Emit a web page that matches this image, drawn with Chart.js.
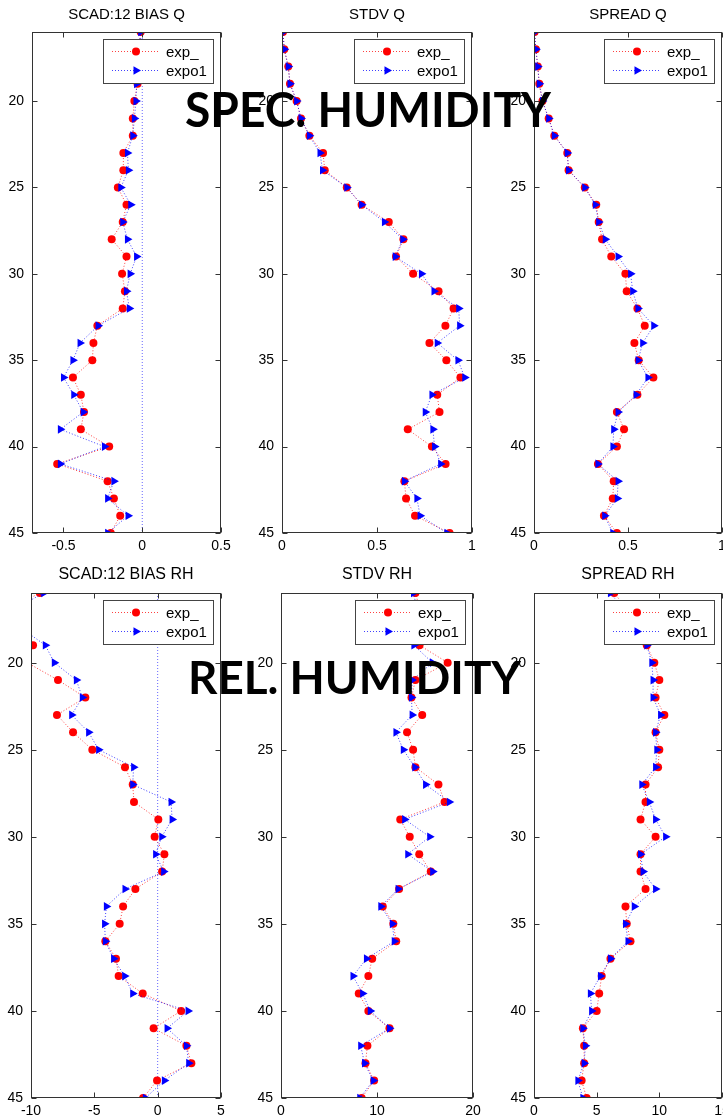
<!DOCTYPE html>
<html>
<head>
<meta charset="utf-8">
<title>Humidity verification profiles</title>
<script src="https://cdn.jsdelivr.net/npm/chart.js@4.4.0/dist/chart.umd.min.js"></script>
<style>
  html, body { margin: 0; padding: 0; background: #fff; overflow: hidden; }
  body { width: 723px; height: 1117px; position: relative; }
  canvas { position: absolute; }
  .big {
    position: absolute; z-index: 10; white-space: nowrap;
    font-family: Lato, "Open Sans", sans-serif; font-weight: 700; color: #000;
    line-height: 1; transform-origin: 0 0;
  }
</style>
</head>
<body>
<div id="wrap"></div>
<div class="big" id="lblQ" style="font-size:47px">SPEC. HUMIDITY</div>
<div class="big" id="lblRH" style="font-size:46px">REL. HUMIDITY</div>
<script>
// model levels, top (16) to bottom (45)
const levels = [16, 17, 18, 19, 20, 21, 22, 23, 24, 25, 26, 27, 28, 29, 30,
                31, 32, 33, 34, 35, 36, 37, 38, 39, 40, 41, 42, 43, 44, 45];
const levelTicks = [20, 25, 30, 35, 40, 45];

// specific humidity
const biasQExp   = [-0.01, -0.02, -0.03, -0.03, -0.05, -0.06, -0.06, -0.12, -0.12, -0.155, -0.10, -0.124, -0.194, -0.10, -0.128,
                    -0.11, -0.124, -0.285, -0.31, -0.317, -0.44, -0.39, -0.37, -0.39, -0.21, -0.54, -0.22, -0.18, -0.14, -0.20];
const biasQExpo1 = [-0.01, -0.02, -0.03, -0.036, -0.04, -0.05, -0.06, -0.094, -0.088, -0.136, -0.073, -0.124, -0.094, -0.036, -0.077,
                    -0.10, -0.082, -0.28, -0.395, -0.44, -0.50, -0.435, -0.375, -0.52, -0.24, -0.52, -0.18, -0.22, -0.09, -0.22];
const stdvQExp   = [0.005, 0.012, 0.033, 0.042, 0.077, 0.10, 0.144, 0.216, 0.225, 0.341, 0.419, 0.562, 0.639, 0.60, 0.69,
                    0.824, 0.903, 0.86, 0.776, 0.865, 0.939, 0.817, 0.829, 0.662, 0.789, 0.861, 0.644, 0.653, 0.70, 0.882];
const stdvQExpo1 = [0.005, 0.012, 0.033, 0.042, 0.077, 0.10, 0.144, 0.20, 0.213, 0.341, 0.419, 0.539, 0.636, 0.596, 0.734,
                    0.80, 0.93, 0.935, 0.817, 0.926, 0.962, 0.789, 0.754, 0.794, 0.803, 0.835, 0.644, 0.71, 0.727, 0.868];
const spreadQExp   = [0.003, 0.01, 0.02, 0.028, 0.045, 0.078, 0.108, 0.177, 0.184, 0.27, 0.331, 0.344, 0.362, 0.411, 0.486,
                      0.493, 0.55, 0.589, 0.534, 0.557, 0.635, 0.55, 0.441, 0.479, 0.441, 0.34, 0.424, 0.419, 0.372, 0.441];
const spreadQExpo1 = [0.003, 0.01, 0.02, 0.028, 0.045, 0.078, 0.108, 0.177, 0.184, 0.27, 0.326, 0.344, 0.379, 0.447, 0.514,
                      0.525, 0.553, 0.637, 0.578, 0.554, 0.606, 0.543, 0.447, 0.424, 0.42, 0.34, 0.447, 0.443, 0.376, 0.419];

// relative humidity
const biasRHExp   = [-9.3, -12, -11.5, -9.84, -10.3, -7.87, -5.71, -7.95, -6.68, -5.16, -2.58, -1.97, -1.87, 0.05, -0.24,
                     0.53, 0.35, -1.76, -2.73, -3.0, -4.13, -3.29, -3.08, -1.18, 1.85, -0.32, 2.27, 2.66, -0.05, -1.15];
const biasRHExpo1 = [-9.0, -11.5, -10.8, -8.87, -8.16, -6.42, -5.95, -6.79, -5.45, -4.66, -1.9, -1.97, 1.06, 1.14, 0.32,
                     -0.16, 0.47, -2.58, -4.05, -4.19, -4.13, -3.48, -2.61, -1.97, 2.40, 0.74, 2.27, 2.45, 0.53, -0.97];
const stdvRHExp   = [14.0, 14.5, 14.8, 14.43, 17.36, 14.0, 13.59, 14.71, 13.13, 13.76, 14.0, 16.4, 17.04, 12.42, 13.41,
                     14.4, 15.6, 12.3, 10.6, 11.7, 12.0, 9.5, 9.1, 8.1, 9.1, 11.3, 9.0, 8.8, 9.7, 8.4];
const stdvRHExpo1 = [13.8, 14.2, 14.5, 13.84, 15.77, 13.66, 13.59, 13.66, 11.97, 12.74, 13.94, 15.06, 17.53, 12.88, 15.49,
                     13.2, 15.8, 12.2, 10.4, 11.6, 11.8, 8.9, 7.5, 8.5, 9.3, 11.3, 8.3, 8.7, 9.6, 8.2];
const spreadRHExp   = [6.4, 7.5, 8.4, 9.0, 9.6, 10.0, 9.7, 10.4, 9.7, 10.0, 9.9, 8.9, 8.9, 8.5, 9.7,
                       8.5, 8.5, 8.9, 7.3, 7.4, 7.7, 6.1, 5.4, 5.2, 5.0, 3.9, 4.0, 4.0, 3.8, 4.2];
const spreadRHExpo1 = [6.1, 7.2, 8.2, 9.0, 9.4, 9.5, 9.5, 10.1, 9.7, 9.8, 9.7, 8.6, 9.2, 9.7, 10.5,
                       8.5, 8.7, 9.7, 8.0, 7.3, 7.5, 6.1, 5.3, 4.5, 4.6, 3.9, 4.1, 4.0, 3.5, 3.9];

const biasQTicks = [-0.5, 0, 0.5];
const unitTicks = [0, 0.5, 1];
const biasRHTicks = [-10, -5, 0, 5];
const stdvRHTicks = [0, 10, 20];
const spreadRHTicks = [0, 5, 10, 15];

Chart.defaults.font.family = '"Liberation Sans", Arial, sans-serif';
Chart.defaults.color = '#000';

const FONT = '"Liberation Sans", Arial, sans-serif';
const RIGHT_PAD = 18; // room for the last x tick label

// plot area of each panel on the page: left, top, width, height
const panels = [
  { title: 'SCAD:12 BIAS Q', exp: biasQExp, expo1: biasQExpo1, min: -0.7, max: 0.5, ticks: biasQTicks, zero: true, rect: [32, 32, 189, 501], row: 0 },
  { title: 'STDV Q', exp: stdvQExp, expo1: stdvQExpo1, min: 0, max: 1, ticks: unitTicks, rect: [282, 32, 190, 501], row: 0 },
  { title: 'SPREAD Q', exp: spreadQExp, expo1: spreadQExpo1, min: 0, max: 1, ticks: unitTicks, rect: [534, 32, 188, 501], row: 0 },
  { title: 'SCAD:12 BIAS RH', exp: biasRHExp, expo1: biasRHExpo1, min: -10, max: 5, ticks: biasRHTicks, zero: true, rect: [31, 593, 190, 505], row: 1 },
  { title: 'STDV RH', exp: stdvRHExp, expo1: stdvRHExpo1, min: 0, max: 20, ticks: stdvRHTicks, rect: [281, 593, 192, 505], row: 1 },
  { title: 'SPREAD RH', exp: spreadRHExp, expo1: spreadRHExpo1, min: 0, max: 15, ticks: spreadRHTicks, rect: [534, 593, 188, 505], row: 1 }
];

const toPoints = vals => vals.map((v, i) => ({ x: v, y: levels[i] }));

function marker(ctx, ds, x, y) {
  ctx.fillStyle = ds.pointBackgroundColor;
  const opts = { pointStyle: ds.pointStyle, rotation: ds.pointRotation || 0, radius: ds.pointRadius, borderWidth: 0 };
  if (Chart.helpers && Chart.helpers.drawPoint) {
    Chart.helpers.drawPoint(ctx, opts, x, y);
  } else {
    ctx.beginPath();
    ctx.arc(x, y, ds.pointRadius, 0, Math.PI * 2);
    ctx.fill();
  }
}

// axes box with inward ticks on all four sides, then the legend box
const frame = {
  id: 'frame',
  afterDatasetsDraw(chart) {
    const { ctx, chartArea: a } = chart;
    const xs = chart.scales.x, ys = chart.scales.y;
    const L = Math.round(a.left) + 0.5, R = Math.round(a.right) - 0.5;
    const T = Math.round(a.top) + 0.5, B = Math.round(a.bottom) - 0.5;
    ctx.save();
    ctx.strokeStyle = '#333';
    ctx.lineWidth = 1;
    ctx.strokeRect(L, T, R - L, B - T);
    ctx.beginPath();
    xs.ticks.forEach(t => {
      const px = Math.round(xs.getPixelForValue(t.value)) + 0.5;
      ctx.moveTo(px, B); ctx.lineTo(px, B - 5);
      ctx.moveTo(px, T); ctx.lineTo(px, T + 5);
    });
    ys.ticks.forEach(t => {
      const py = Math.round(ys.getPixelForValue(t.value)) + 0.5;
      ctx.moveTo(L, py); ctx.lineTo(L + 5, py);
      ctx.moveTo(R, py); ctx.lineTo(R - 5, py);
    });
    ctx.stroke();

    // legend
    const series = chart.data.datasets.filter(d => d.label);
    const w = 110, h = 44;
    const bx = Math.round(a.right - 8 - w), by = Math.round(a.top + 7);
    ctx.fillStyle = '#fff';
    ctx.fillRect(bx, by, w, h);
    ctx.strokeStyle = '#444';
    ctx.strokeRect(bx + 0.5, by + 0.5, w, h);
    ctx.font = '15px ' + FONT;
    ctx.textBaseline = 'middle';
    series.forEach((ds, i) => {
      const cy = by + 12.5 + i * 19;
      ctx.strokeStyle = ds.borderColor;
      ctx.setLineDash(ds.borderDash);
      ctx.beginPath();
      ctx.moveTo(bx + 9, cy); ctx.lineTo(bx + 55, cy);
      ctx.stroke();
      ctx.setLineDash([]);
      marker(ctx, ds, bx + 33, cy);
      ctx.fillStyle = '#000';
      ctx.fillText(ds.label, bx + 63, cy + 1);
    });
    ctx.restore();
  }
};

function makeChart(p) {
  const [left, top, w, h] = p.rect;
  const canvas = document.createElement('canvas');
  canvas.width = w + 32 + RIGHT_PAD;
  canvas.height = h + 56;
  canvas.style.left = (left - 32) + 'px';
  canvas.style.top = (top - 32) + 'px';
  document.getElementById('wrap').appendChild(canvas);

  const datasets = [
    {
      label: 'exp_', data: toPoints(p.exp), order: 1,
      borderColor: 'rgba(255,0,0,0.75)', borderWidth: 1, borderDash: [1, 2],
      pointStyle: 'circle', pointRadius: 4, pointBackgroundColor: '#ff0000', pointBorderWidth: 0
    },
    {
      label: 'expo1', data: toPoints(p.expo1), order: 0,
      borderColor: 'rgba(0,0,255,0.75)', borderWidth: 1, borderDash: [1, 2],
      pointStyle: 'triangle', pointRotation: 90, pointRadius: 5, pointBackgroundColor: '#0000ff', pointBorderWidth: 0
    }
  ];
  if (p.zero) {
    datasets.push({
      data: [{ x: 0, y: 16 }, { x: 0, y: 45 }], order: 5,
      borderColor: 'rgba(0,0,255,0.6)', borderWidth: 1, borderDash: [1, 2], pointRadius: 0
    });
  }

  const tickFont = { size: 14 };
  new Chart(canvas, {
    type: 'line',
    data: { datasets },
    options: {
      responsive: false,
      animation: false,
      devicePixelRatio: 1,
      indexAxis: 'y',
      layout: { padding: { left: 0, right: RIGHT_PAD, top: 0, bottom: 0 } },
      plugins: {
        legend: { display: false },
        tooltip: { enabled: false },
        title: {
          display: true, text: p.title, fullSize: false, color: '#000',
          font: { size: p.row ? 16 : 15, weight: 'normal', lineHeight: '18px' },
          padding: p.row ? { top: 5, bottom: 9 } : { top: 6, bottom: 8 }
        }
      },
      scales: {
        x: {
          type: 'linear', min: p.min, max: p.max,
          grid: { display: false, drawTicks: false }, border: { display: false },
          ticks: { font: tickFont, padding: 5, maxRotation: 0, callback: v => String(v) },
          afterBuildTicks: s => { s.ticks = p.ticks.map(v => ({ value: v })); },
          afterFit: s => { s.height = 24; s.paddingLeft = 0; s.paddingRight = 0; }
        },
        y: {
          type: 'linear', min: 16, max: 45, reverse: true,
          grid: { display: false, drawTicks: false }, border: { display: false },
          ticks: { font: tickFont, padding: 8, callback: v => String(v) },
          afterBuildTicks: s => { s.ticks = levelTicks.map(v => ({ value: v })); },
          afterFit: s => { s.width = 32; s.paddingTop = 0; s.paddingBottom = 0; }
        }
      }
    },
    plugins: [frame]
  });
}

panels.forEach(makeChart);

// large overlay captions, stretched to their span
function placeCaption(id, left, baseline, width) {
  const el = document.getElementById(id);
  const size = parseFloat(el.style.fontSize);
  el.style.left = left + 'px';
  el.style.top = (baseline - 0.887 * size) + 'px';
  const natural = el.getBoundingClientRect().width;
  el.style.transform = 'scaleX(' + (width / natural) + ')';
}
placeCaption('lblQ', 185, 128, 366);
placeCaption('lblRH', 188, 695, 333);
</script>
</body>
</html>
